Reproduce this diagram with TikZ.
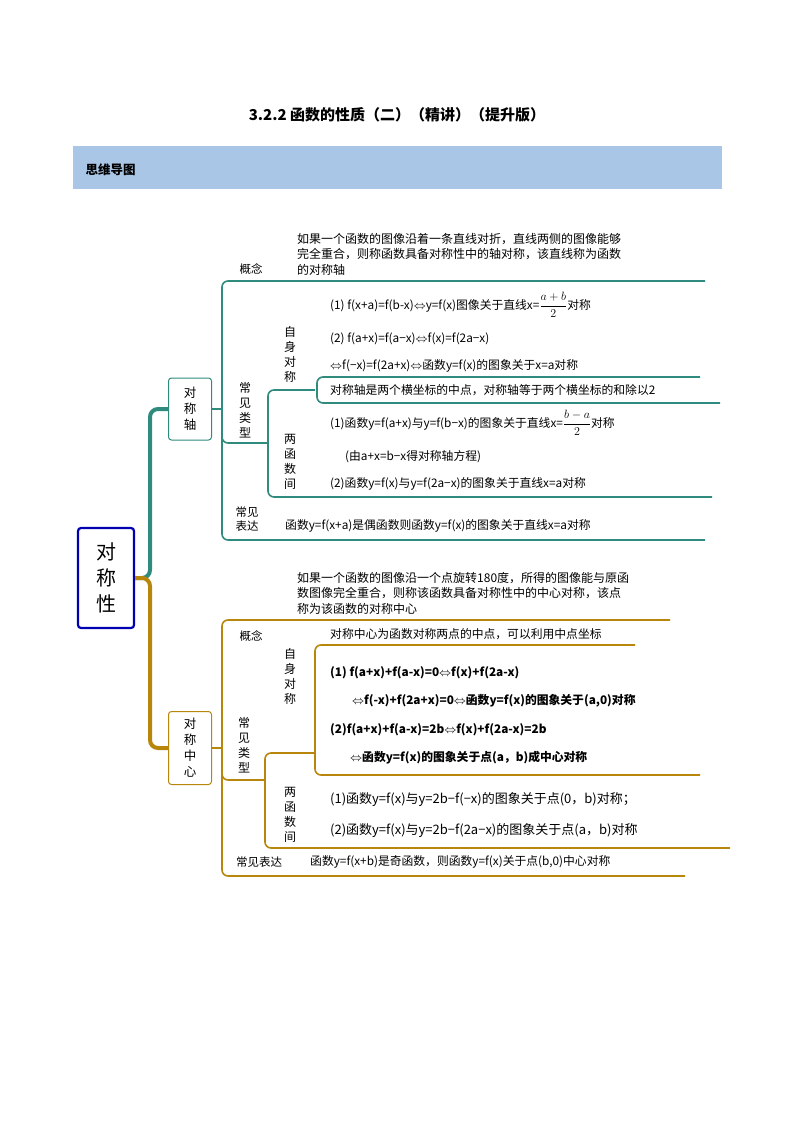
\documentclass[tikz,border=0pt]{standalone}
\usepackage{fontspec}
\setmainfont{Liberation Serif}
\newfontfamily\cjk{Noto Sans CJK SC}
\definecolor{tc}{HTML}{2E8B7E}
\definecolor{gc}{HTML}{B8860B}
\definecolor{hb}{HTML}{A9C6E6}
\begin{document}
\begin{tikzpicture}[x=1pt,y=-1pt,
  tx/.style={font=\cjk\fontsize{11.8}{14.5}\selectfont,anchor=west,inner sep=0pt},
  lb/.style={font=\cjk\fontsize{11.5}{14}\selectfont,inner sep=0pt,align=center},
  vl/.style={font=\cjk\fontsize{12}{15}\selectfont,inner sep=0pt,align=center},
  tl/.style={draw=tc,line width=1.6pt,rounded corners=6pt},
  gl/.style={draw=gc,line width=1.6pt,rounded corners=6pt},
  tbox/.style={draw=tc,line width=1pt,rounded corners=3pt,minimum width=43pt,font=\cjk\fontsize{12.5}{16}\selectfont,align=center,fill=white},
  gbox/.style={draw=gc,line width=1pt,rounded corners=3pt,minimum width=43pt,font=\cjk\fontsize{12.5}{16}\selectfont,align=center,fill=white}]
\useasboundingbox (0,0) rectangle (794,1123);
\node[font=\cjk\bfseries\fontsize{15}{17}\selectfont] (title) at (397,115) {3.2.2 函数的性质（二）（精讲）（提升版）};
\fill[hb] (73,146) rectangle (722,189);
\node[font=\cjk\bfseries\fontsize{12.5}{14}\selectfont,anchor=west] (hdr) at (82,170) {思维导图};
% root
\node[draw=blue!70!black,line width=2.2pt,rounded corners=3pt,minimum width=56pt,minimum height=100pt,font=\cjk\fontsize{20}{26}\selectfont,align=center] (root) at (106,578) {对\\称\\性};
\node[tbox,minimum height=62pt] (axis) at (190,409) {对\\称\\轴};
\node[gbox,minimum height=73pt] (cent) at (190,748) {对\\称\\中\\心};
\draw[tc,line width=4pt,rounded corners=8pt] (root.east) -- (150,578) |- (axis.west);
\draw[gc,line width=4pt,rounded corners=8pt] (root.east) -- (150,578) |- (cent.west);
% ---------- teal
\coordinate (ta) at (222,409);
\draw[tl] (axis.east) -- (ta);
\draw[tl] (ta) |- (705,281);
\draw[tl] (ta) |- (268,443);
\draw[tl] (ta) |- (705,540);
\node[lb] (tgn) at (251,269) {概念};
\node[tx,align=left,font=\cjk\fontsize{12}{15.5}\selectfont] (tgt) at (297,254) {如果一个函数的图像沿着一条直线对折，直线两侧的图像能够\\完全重合，则称函数具备对称性中的轴对称，该直线称为函数\\的对称轴};
\node[vl] (tcl) at (245,410) {常\\见\\类\\型};
\coordinate (tb) at (268,443);
\draw[tl] (tb) |- (315,390);
\draw[tl] (tb) |- (712,497);
\draw[tl] (700,377) -- (317,377) -- (317,403) -- (720,403);
\node[vl] (tzs) at (290,354) {自\\身\\对\\称};
\node[vl] (tlh) at (290,462) {两\\函\\数\\间};
\node[tx] (t1) at (330,305) {(1) f(x+a)=f(b-x)$\Leftrightarrow$y=f(x)图像关于直线x=${\displaystyle\frac{a+b}{2}}$对称};
\node[tx] (t2) at (330,339) {(2) f(a+x)=f(a−x)$\Leftrightarrow$f(x)=f(2a−x)};
\node[tx] (t3) at (330,366) {$\Leftrightarrow$f(−x)=f(2a+x)$\Leftrightarrow$函数y=f(x)的图象关于x=a对称};
\node[tx] (t4) at (330,390) {对称轴是两个横坐标的中点，对称轴等于两个横坐标的和除以2};
\node[tx] (t5) at (330,423) {(1)函数y=f(a+x)与y=f(b−x)的图象关于直线x=${\displaystyle\frac{b-a}{2}}$对称};
\node[tx] (t6) at (345,457) {(由a+x=b−x得对称轴方程)};
\node[tx] (t7) at (330,484) {(2)函数y=f(x)与y=f(2a−x)的图象关于直线x=a对称};
\node[lb] (tbd) at (247,519) {常见\\表达};
\node[tx] (t8) at (285,526) {函数y=f(x+a)是偶函数则函数y=f(x)的图象关于直线x=a对称};
% ---------- gold
\coordinate (ga) at (222,748);
\draw[gl] (cent.east) -- (ga);
\draw[gl] (ga) |- (670,620);
\draw[gl] (ga) |- (265,780);
\draw[gl] (ga) |- (685,876);
\node[lb] (ggn) at (251,636) {概念};
\node[tx,align=left,font=\cjk\fontsize{12}{15.5}\selectfont] (ggt) at (297,593) {如果一个函数的图像沿一个点旋转180度，所得的图像能与原函\\数图像完全重合，则称该函数具备对称性中的中心对称，该点\\称为该函数的对称中心};
\node[vl] (gcl) at (244,745) {常\\见\\类\\型};
\coordinate (gb) at (265,780);
\draw[gl] (gb) |- (315,753);
\draw[gl] (gb) |- (730,848);
\draw[gl] (635,645) -- (315,645) -- (315,775) -- (700,775);
\node[vl] (gzs) at (290,676) {自\\身\\对\\称};
\node[vl] (glh) at (290,815) {两\\函\\数\\间};
\node[tx] (g0) at (330,634) {对称中心为函数对称两点的中点，可以利用中点坐标};
\node[tx] (g1) at (330,673) {\bfseries (1) f(a+x)+f(a-x)=0$\Leftrightarrow$f(x)+f(2a-x)};
\node[tx] (g2) at (352,701) {\bfseries $\Leftrightarrow$f(-x)+f(2a+x)=0$\Leftrightarrow$函数y=f(x)的图象关于(a,0)对称};
\node[tx] (g3) at (330,730) {\bfseries (2)f(a+x)+f(a-x)=2b$\Leftrightarrow$f(x)+f(2a-x)=2b};
\node[tx] (g4) at (350,758) {\bfseries $\Leftrightarrow$函数y=f(x)的图象关于点(a，b)成中心对称};
\node[tx,font=\cjk\fontsize{13}{15}\selectfont] (g5) at (330,800) {(1)函数y=f(x)与y=2b−f(−x)的图象关于点(0，b)对称；};
\node[tx,font=\cjk\fontsize{13}{15}\selectfont] (g6) at (330,831) {(2)函数y=f(x)与y=2b−f(2a−x)的图象关于点(a，b)对称};
\node[lb] (gbd) at (259,862) {常见表达};
\node[tx] (g7) at (310,862) {函数y=f(x+b)是奇函数，则函数y=f(x)关于点(b,0)中心对称};
\end{tikzpicture}
\end{document}
